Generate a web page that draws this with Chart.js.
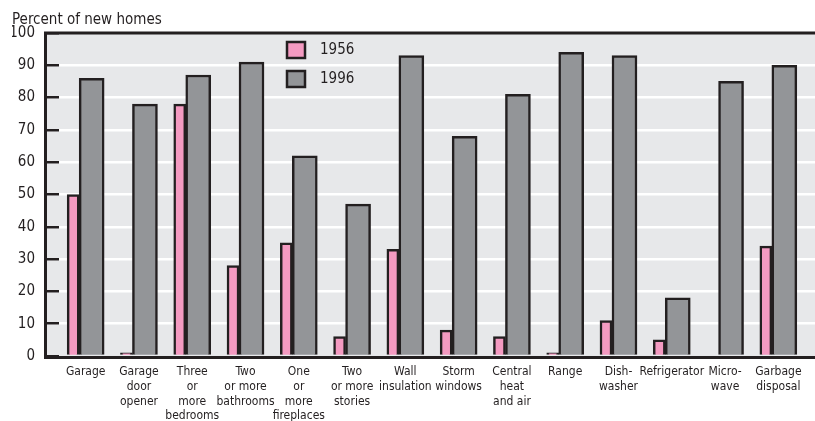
<!DOCTYPE html>
<html>
<head>
<meta charset="utf-8">
<script src="https://cdn.jsdelivr.net/npm/chart.js@4"></script>
<style>
  html, body { margin: 0; padding: 0; background: #fff; }
  #wrap { width: 815px; height: 421px; position: relative; }
</style>
</head>
<body>
<div id="wrap"><canvas id="grafico"></canvas></div>
<script>
// datos
const categories = [
  ['Garage'],
  ['Garage', 'door', 'opener'],
  ['Three', 'or', 'more', 'bedrooms'],
  ['Two', 'or more', 'bathrooms'],
  ['One', 'or', 'more', 'fireplaces'],
  ['Two', 'or more', 'stories'],
  ['Wall', 'insulation'],
  ['Storm', 'windows'],
  ['Central', 'heat', 'and air'],
  ['Range'],
  ['Dish-', 'washer'],
  ['Refrigerator'],
  ['Micro-', 'wave'],
  ['Garbage', 'disposal']
];
const pct1956 = [50, 1, 78, 28, 35, 6, 33, 8, 6, 1, 11, 5, null, 34];
const pct1996 = [86, 78, 87, 91, 62, 47, 93, 68, 81, 94, 93, 18, 85, 90];
const yTicks = [0, 10, 20, 30, 40, 50, 60, 70, 80, 90, 100];

const INK = '#231f20';
const PINK = '#f49ac1';
const GRAY = '#939598';
const BG = '#e7e8ea';
const FAMILY = "'Liberation Sans Narrow', 'DejaVu Sans Condensed', 'Arial Narrow', sans-serif";

Chart.defaults.font.family = FAMILY;
Chart.defaults.color = INK;

// fondo gris del area
const fondo = {
  id: 'fondo',
  beforeDraw(chart){
    const {ctx, chartArea: a} = chart;
    ctx.save();
    ctx.fillStyle = BG;
    ctx.fillRect(a.left, a.top, a.right - a.left, a.bottom - a.top);
    ctx.restore();
  }
};

// marco: arriba, izquierda y base
const marco = {
  id: 'marco',
  afterDatasetsDraw(chart){
    const {ctx, chartArea: a} = chart;
    ctx.save();
    ctx.strokeStyle = INK;
    ctx.lineWidth = 3;
    ctx.beginPath();
    ctx.moveTo(a.right, a.top);
    ctx.lineTo(a.left + 1.5, a.top);
    ctx.lineTo(a.left + 1.5, a.bottom + 1.5);
    ctx.lineTo(a.right, a.bottom + 1.5);
    ctx.stroke();
    ctx.restore();
  }
};

// leyenda dentro del area
const leyenda = {
  id: 'leyenda',
  afterDraw(chart){
    const {ctx} = chart;
    ctx.save();
    ctx.font = '15px ' + FAMILY;
    ctx.textBaseline = 'middle';
    chart.data.datasets.forEach((ds, i) => {
      const x = 287, y = 42 + i * 29;
      ctx.fillStyle = ds.backgroundColor;
      ctx.fillRect(x, y, 18, 16);
      ctx.strokeStyle = INK;
      ctx.lineWidth = 2.5;
      ctx.strokeRect(x, y, 18, 16);
      ctx.fillStyle = INK;
      ctx.fillText(ds.label, 320, y + 8.5);
    });
    ctx.restore();
  }
};

const ctx = document.getElementById('grafico').getContext('2d');
new Chart(ctx, {
  type: 'bar',
  data: {
    datasets: [
      { label: '1956', data: pct1956.map((v, i) => ({x: i, y: v})),
        backgroundColor: PINK, borderColor: INK, borderWidth: 2.5, barThickness: 12 },
      { label: '1996', data: pct1996.map((v, i) => ({x: i, y: v})),
        backgroundColor: GRAY, borderColor: INK, borderWidth: 2.5, barThickness: 25 }
    ]
  },
  options: {
    responsive: true,
    maintainAspectRatio: false,
    animation: false,
    layout: { padding: { left: 12, right: 0, top: 0, bottom: 0 } },
    plugins: {
      legend: { display: false },
      tooltip: { enabled: false },
      title: {
        display: true, text: 'Percent of new homes', align: 'start',
        font: { size: 15, weight: 'normal', lineHeight: 1.2 }, color: INK,
        padding: { top: 5, bottom: 4 }
      }
    },
    scales: {
      x: {
        type: 'linear', min: -0.66, max: 13.81, offset: false,
        afterBuildTicks(scale){ scale.ticks = categories.map((c, i) => ({value: i})); },
        afterFit(scale){ scale.height = 65; },
        grid: { display: false, drawTicks: false, offset: false },
        border: { display: false },
        ticks: {
          autoSkip: false, maxRotation: 0, padding: 9, labelOffset: 6.5,
          font: { size: 12, lineHeight: 1.22 }, color: INK,
          callback: (v) => categories[v]
        }
      },
      y: {
        min: 0, max: 100,
        afterBuildTicks(scale){ scale.ticks = yTicks.map(v => ({value: v})); },
        afterFit(scale){ scale.width = 32; },
        grid: {
          color: (c) => (c.tick && (c.tick.value === 0 || c.tick.value === 100)) ? 'rgba(0,0,0,0)' : '#ffffff',
          lineWidth: 2.5, tickLength: -15, tickColor: INK, tickWidth: 2.5
        },
        border: { display: false },
        ticks: { padding: 24, font: { size: 15 }, color: INK }
      }
    }
  },
  plugins: [fondo, marco, leyenda]
});
</script>
</body>
</html>
